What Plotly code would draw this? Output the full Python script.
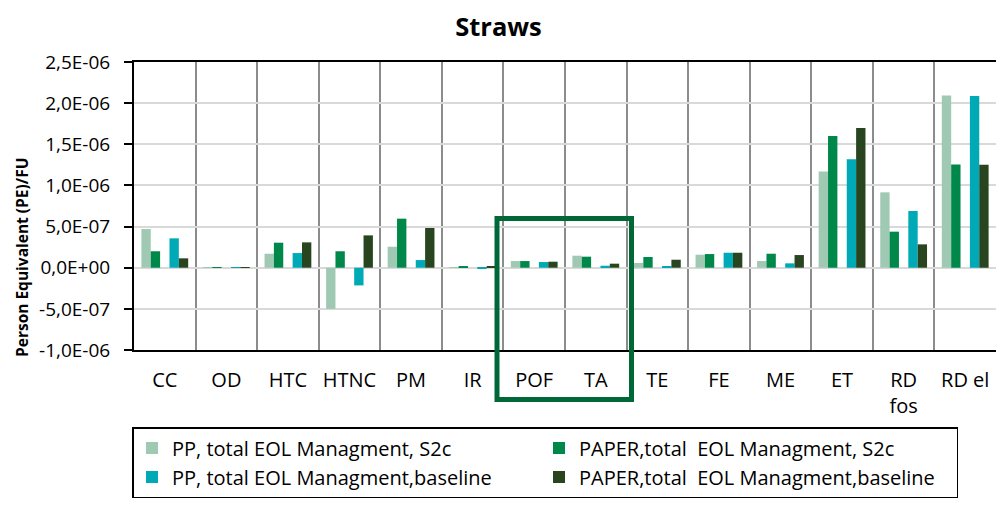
import plotly.graph_objects as go

categories = ["CC", "OD", "HTC", "HTNC", "PM", "IR", "POF", "TA", "TE", "FE", "ME", "ET", "RD<br>fos", "RD el"]

pp_s2c = [4.7e-7, 3e-9, 1.7e-7, -5.0e-7, 2.55e-7, 3e-9, 8.1e-8, 1.46e-7, 5.7e-8, 1.58e-7, 8.1e-8, 1.168e-6, 9.16e-7, 2.092e-6]
paper_s2c = [2.0e-7, 2e-9, 3.04e-7, 2.0e-7, 5.96e-7, 2.0e-8, 8.1e-8, 1.34e-7, 1.3e-7, 1.66e-7, 1.7e-7, 1.602e-6, 4.38e-7, 1.253e-6]
pp_base = [3.57e-7, -3e-9, 1.78e-7, -2.15e-7, 9.3e-8, -4e-9, 6.9e-8, 2.4e-8, 1.6e-8, 1.82e-7, 5.3e-8, 1.318e-6, 6.89e-7, 2.088e-6]
paper_base = [1.14e-7, 3e-9, 3.08e-7, 3.93e-7, 4.83e-7, 1.2e-8, 7.3e-8, 4.9e-8, 9.7e-8, 1.82e-7, 1.54e-7, 1.699e-6, 2.84e-7, 1.25e-6]

series_names = [
    "PP, total EOL Managment, S2c",
    "PAPER,total  EOL Managment, S2c",
    "PP, total EOL Managment,baseline",
    "PAPER,total  EOL Managment,baseline",
]

y_tick_vals = [-1.0e-6, -5.0e-7, 0.0, 5.0e-7, 1.0e-6, 1.5e-6, 2.0e-6, 2.5e-6]
y_tick_text = ["-1,0E-06", "-5,0E-07", "0,0E+00", "5,0E-07", "1,0E-06", "1,5E-06", "2,0E-06", "2,5E-06"]

FONT = "Open Sans"
C_PP_S2C = "#a0c9b4"
C_PAPER_S2C = "#00884b"
C_PP_BASE = "#00a9b6"
C_PAPER_BASE = "#29451f"

fig = go.Figure()
fig.add_trace(go.Bar(x=categories, y=pp_s2c, name=series_names[0], marker_color=C_PP_S2C,
                     legendgroup="pp", legendwidth=362, marker_line_width=0))
fig.add_trace(go.Bar(x=categories, y=paper_s2c, name=series_names[1], marker_color=C_PAPER_S2C,
                     legendgroup="paper", legendwidth=372, marker_line_width=0))
fig.add_trace(go.Bar(x=categories, y=[None] * len(categories), name="", showlegend=False,
                     marker_color="rgba(0,0,0,0)", hoverinfo="skip"))
fig.add_trace(go.Bar(x=categories, y=pp_base, name=series_names[2], marker_color=C_PP_BASE,
                     legendgroup="pp", legendwidth=362, marker_line_width=0))
fig.add_trace(go.Bar(x=categories, y=paper_base, name=series_names[3], marker_color=C_PAPER_BASE,
                     legendgroup="paper", legendwidth=372, marker_line_width=0))

L, R, T, B = 134, 1, 62, 165
W, H = 997, 515
pw, ph = W - L - R, H - T - B

def px(xp):
    return (xp - L) / pw

def py(yp):
    return (H - B - yp) / ph

fig.update_layout(
    width=W, height=H,
    margin=dict(l=L, r=R, t=T, b=B),
    paper_bgcolor="white", plot_bgcolor="white",
    barmode="group", bargap=0.24, bargroupgap=0,
    font=dict(family=FONT, color="black", size=18),
    title=dict(text="<b>Straws</b>", x=0.5, xref="container", y=1 - 27 / H, yref="container",
               xanchor="center", yanchor="middle", font=dict(family=FONT, size=25.5, color="black")),
    xaxis=dict(
        type="category", tickson="boundaries", showgrid=True, gridcolor="#8c8c8c", gridwidth=1.5,
        showline=True, linecolor="black", linewidth=2, mirror=True, ticks="",
        tickfont=dict(family=FONT, size=20, color="black"), ticklabelstandoff=11,
    ),
    yaxis=dict(
        range=[-1.0e-6, 2.5e-6], tickvals=y_tick_vals, ticktext=y_tick_text,
        showgrid=True, gridcolor="#d9d9d9", gridwidth=1.5, zeroline=False,
        showline=True, linecolor="black", linewidth=2, ticks="outside", ticklen=8,
        tickcolor="black", tickwidth=1.5, tickfont=dict(family=FONT, size=19, color="black"),
        ticklabelstandoff=10,
    ),
    legend=dict(
        orientation="h", traceorder="grouped", x=px(132), y=py(427), xanchor="left", yanchor="top",
        bordercolor="black", borderwidth=1.5, bgcolor="white",
        font=dict(family=FONT, size=20, color="black"), tracegroupgap=0,
    ),
    showlegend=True,
)

fig.add_annotation(text="<b>Person Equivalent (PE)/FU</b>", textangle=-90, x=px(22), y=py(258),
                   xref="paper", yref="paper", showarrow=False, xanchor="center", yanchor="middle",
                   font=dict(family=FONT, size=15.5, color="black"))

fig.add_shape(type="rect", xref="paper", yref="paper", x0=px(497), x1=px(631.5), y0=py(399.5), y1=py(218.5),
              line=dict(color="#006837", width=5), layer="above")

fig.write_html("out.html", config={"displayModeBar": False},
               post_script="document.body.style.margin='0';")
